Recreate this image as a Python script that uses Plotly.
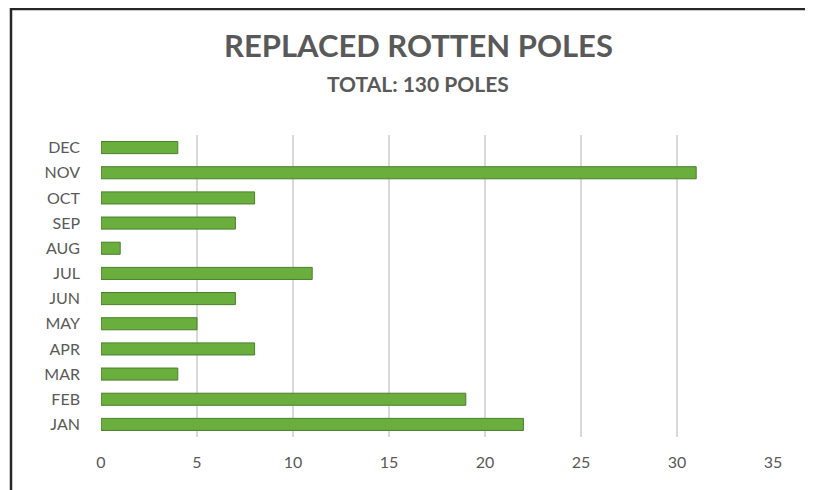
import plotly.graph_objects as go

# data
months = ["JAN", "FEB", "MAR", "APR", "MAY", "JUN", "JUL", "AUG", "SEP", "OCT", "NOV", "DEC"]
poles = [22, 19, 4, 8, 5, 7, 11, 1, 7, 8, 31, 4]
x_ticks = [0, 5, 10, 15, 20, 25, 30, 35]

title_text = "REPLACED ROTTEN POLES"
subtitle_text = "TOTAL: 130 POLES"

# page body adds an 8px margin, so the figure is drawn 8px smaller
W, H = 805, 482
ml, mr, mt, mb = 93, 40, 127, 53
pw = W - ml - mr
ph = H - mt - mb

def px_x(x):
	return (x - ml) / pw

def px_y(y):
	return (H - mb - y) / ph

fig = go.Figure()
fig.add_trace(go.Bar(
	x=poles, y=months, orientation="h", width=0.48,
	marker=dict(color="#6aae3e", line=dict(color="#4a7f2a", width=1)),
	hoverinfo="x+y",
))

font = "Lato, 'Open Sans', sans-serif"
fig.update_layout(
	width=W, height=H,
	margin=dict(l=ml, r=mr, t=mt, b=mb),
	paper_bgcolor="white", plot_bgcolor="white",
	showlegend=False,
	font=dict(family=font, color="#595959", size=16),
	xaxis=dict(range=[0, 35], tickvals=x_ticks, showgrid=True, gridcolor="#d9d9d9",
	           gridwidth=1.5, zeroline=False, showline=False, ticklabelstandoff=14,
	           tickfont=dict(size=16)),
	yaxis=dict(categoryorder="array", categoryarray=months, showgrid=False,
	           zeroline=False, showline=False, ticklabelstandoff=20,
	           tickfont=dict(size=16)),
	annotations=[
		dict(text="<b>" + title_text + "</b>", xref="paper", yref="paper",
		     x=px_x(410), y=px_y(37), xanchor="center", yanchor="middle",
		     showarrow=False, font=dict(size=31, color="#595959", family=font)),
		dict(text="<b>" + subtitle_text + "</b>", xref="paper", yref="paper",
		     x=px_x(410), y=px_y(76), xanchor="center", yanchor="middle",
		     showarrow=False, font=dict(size=21, color="#595959", family=font)),
	],
	shapes=[
		dict(type="line", xref="paper", yref="paper", x0=px_x(3), x1=px_x(3),
		     y0=px_y(H), y1=px_y(0), line=dict(color="#262626", width=2.5)),
		dict(type="line", xref="paper", yref="paper", x0=px_x(3), x1=px_x(W),
		     y0=px_y(1), y1=px_y(1), line=dict(color="#262626", width=2.5)),
	],
)

fig.write_html("out.html")
